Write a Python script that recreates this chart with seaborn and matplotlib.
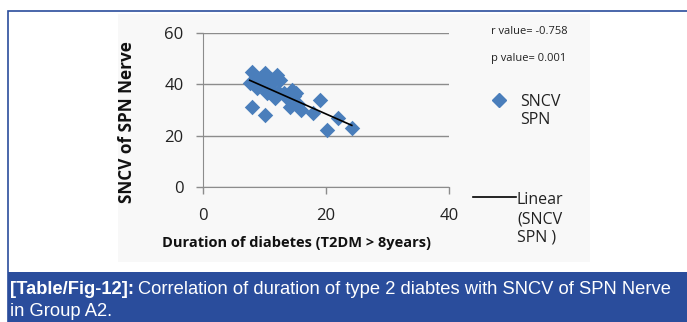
import numpy as np
import pandas as pd
import seaborn as sns
import matplotlib.pyplot as plt
from matplotlib.patches import Rectangle
from matplotlib.lines import Line2D

# Data
duration = [7.9, 10.1, 12.0, 7.6, 8.7, 10.4, 11.7, 13.1, 14.4, 15.2,
            14.1, 16.0, 17.9, 19.0, 7.9, 10.1, 20.1, 22.0, 24.2, 9.3,
            11.2, 12.5, 8.5, 9.8, 11.0, 13.5, 14.8, 10.8, 12.2, 15.5]
sncv = [44.9, 44.3, 43.6, 40.4, 38.4, 36.5, 34.6, 36.5, 37.8, 36.5,
        31.3, 30.0, 28.7, 33.9, 31.3, 28.0, 22.2, 26.8, 22.9, 42.3,
        40.4, 41.5, 41.8, 39.5, 42.0, 35.0, 35.5, 38.0, 37.2, 32.5]
x_ticks = [0, 20, 40]
y_ticks = [0, 20, 40, 60]

df = pd.DataFrame({"duration": duration, "sncv": sncv})

W, H = 687, 322
fig = plt.figure(figsize=(W / 100, H / 100), dpi=100)
fig.patch.set_facecolor("white")

def fx(px):
    return px / W

def fy(py):
    return 1 - py / H

font = ["Open Sans", "DejaVu Sans"]

# light chart area and outer frame
fig.patches.append(Rectangle((fx(118), fy(262)), fx(590) - fx(118), fy(14) - fy(262),
                             transform=fig.transFigure, facecolor="#f8f8f8", edgecolor="none", zorder=-2))
fig.patches.append(Rectangle((fx(8), 0), 1.2, fy(11), transform=fig.transFigure,
                             facecolor="none", edgecolor="#2a4d9c", linewidth=1.2, zorder=-1))
# caption band
fig.patches.append(Rectangle((fx(8), 0), 1.2, fy(272), transform=fig.transFigure,
                             facecolor="#2a4d9c", edgecolor="none", zorder=-1))

ax = fig.add_axes([fx(203), fy(187), fx(449) - fx(203), fy(33) - fy(187)])
ax.set_facecolor("none")
ax.set_zorder(2)

sns.regplot(data=df, x="duration", y="sncv", ax=ax, ci=None, marker="D",
            scatter_kws={"color": "#4a7ebb", "s": 62, "alpha": 1, "linewidths": 0},
            line_kws={"color": "black", "linewidth": 1.2})

ax.set_xlim(0, 40)
ax.set_ylim(0, 60)
ax.set_xticks(x_ticks)
ax.set_yticks(y_ticks)
ax.yaxis.grid(True, color="#8c8c8c", linewidth=1)
ax.set_axisbelow(True)
for s in ["top", "right"]:
    ax.spines[s].set_visible(False)
ax.spines["left"].set_color("#8c8c8c")
ax.spines["bottom"].set_color("#8c8c8c")
ax.tick_params(axis="both", colors="#8c8c8c", labelcolor="#222222", labelsize=12,
               length=5, width=1)
ax.tick_params(axis="y", pad=9)
ax.tick_params(axis="x", pad=10)
for lab in ax.get_xticklabels() + ax.get_yticklabels():
    lab.set_family(font)
ax.set_xlabel("")
ax.set_ylabel("")

# axis titles placed as in the original chart
fig.text(fx(297), fy(243), "Duration of diabetes (T2DM > 8years)", fontsize=10.5,
         fontweight="bold", ha="center", va="center", color="#111111", family=font)
fig.text(fx(127), fy(122), "SNCV of SPN Nerve", fontsize=12.3, fontweight="bold",
         rotation=90, ha="center", va="center", color="#111111", family=font)

# statistics and legend at the right
fig.text(fx(491), fy(32), "r value= -0.758", fontsize=8, color="#222222",
         va="center", family=font)
fig.text(fx(491), fy(58), "p value= 0.001", fontsize=8, color="#222222",
         va="center", family=font)
fig.lines.append(Line2D([fx(499)], [fy(100)], marker="D", color="#4a7ebb",
                        markersize=7, transform=fig.transFigure))
fig.text(fx(520), fy(111), "SNCV\nSPN", fontsize=11.5, color="#222222", va="center",
         linespacing=1.25, family=font)
fig.lines.append(Line2D([fx(473), fx(516)], [fy(197), fy(197)], color="black",
                        linewidth=1.2, transform=fig.transFigure))
fig.text(fx(517), fy(219), "Linear\n(SNCV\nSPN )", fontsize=11.5, color="#222222",
         va="center", linespacing=1.25, family=font)

# caption
cap_font = ["Liberation Sans Narrow", "Liberation Sans", "DejaVu Sans"]
t1 = fig.text(fx(10), fy(290), "[Table/Fig-12]:", fontsize=13.2, color="white",
              fontweight="bold", va="center", family=cap_font)
fig.canvas.draw()
bb = t1.get_window_extent()
fig.text(bb.x1 / W + 0.006, fy(290),
         "Correlation of duration of type 2 diabtes with SNCV of SPN Nerve",
         fontsize=13.2, color="white", va="center", family=cap_font)
fig.text(fx(10), fy(311), "in Group A2.", fontsize=13.2, color="white",
         va="center", family=cap_font)

fig.savefig("out.png", dpi=100)
